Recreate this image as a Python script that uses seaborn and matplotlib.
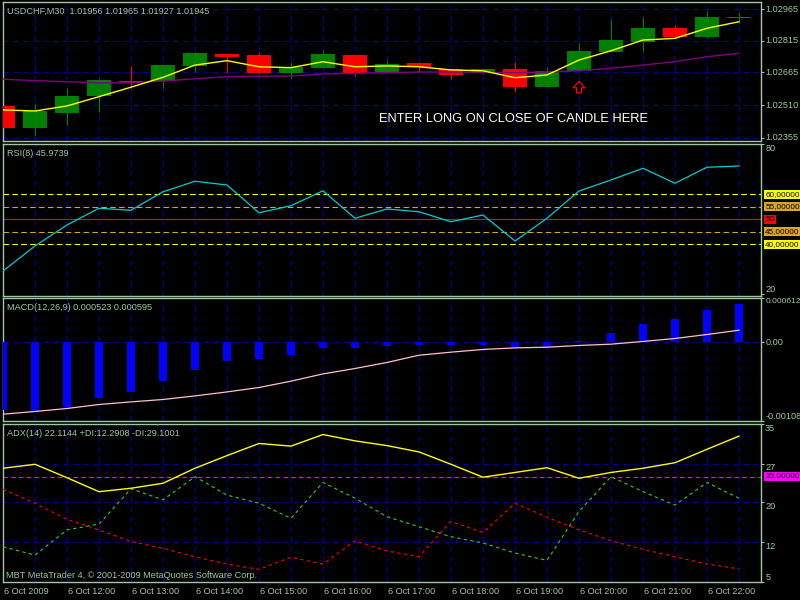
import numpy as np
import matplotlib
matplotlib.use("Agg")
import matplotlib.pyplot as plt
import matplotlib.transforms as mtransforms
import seaborn as sns

# 30 minute candles, 6 Oct 2009 11:00 .. 22:30
bar_idx = np.arange(24)
time_ticks = bar_idx[::2]
time_labels = ["6 Oct 2009", "6 Oct 12:00", "6 Oct 13:00", "6 Oct 14:00", "6 Oct 15:00",
               "6 Oct 16:00", "6 Oct 17:00", "6 Oct 18:00", "6 Oct 19:00", "6 Oct 20:00",
               "6 Oct 21:00", "6 Oct 22:00"]

opens = [1.02506, 1.02403, 1.02474, 1.02555, 1.02626, 1.02624, 1.02697, 1.02753, 1.02748, 1.02661,
         1.02688, 1.02748, 1.02669, 1.02709, 1.02680, 1.02661, 1.02681, 1.02597, 1.02672, 1.02764,
         1.02811, 1.02878, 1.02835, 1.02923]
highs = [1.02548, 1.02515, 1.02593, 1.02632, 1.02696, 1.02703, 1.02764, 1.02755, 1.02764, 1.02716,
         1.02772, 1.02750, 1.02724, 1.02716, 1.02683, 1.02683, 1.02716, 1.02692, 1.02804, 1.02919,
         1.02927, 1.02890, 1.02958, 1.02954]
lows = [1.02360, 1.02368, 1.02415, 1.02479, 1.02591, 1.02591, 1.02669, 1.02664, 1.02658, 1.02640,
        1.02685, 1.02648, 1.02666, 1.02669, 1.02634, 1.02658, 1.02574, 1.02594, 1.02668, 1.02760,
        1.02764, 1.02830, 1.02830, 1.02901]
closes = [1.02403, 1.02482, 1.02553, 1.02629, 1.02621, 1.02700, 1.02756, 1.02740, 1.02661, 1.02692,
          1.02753, 1.02664, 1.02704, 1.02690, 1.02653, 1.02680, 1.02597, 1.02672, 1.02767, 1.02819,
          1.02878, 1.02835, 1.02930, 1.02927]
ma_fast = [1.02487, 1.02482, 1.02506, 1.02550, 1.02595, 1.02642, 1.02700, 1.02721, 1.02692, 1.02688,
           1.02716, 1.02692, 1.02696, 1.02692, 1.02677, 1.02673, 1.02640, 1.02653, 1.02724, 1.02768,
           1.02819, 1.02827, 1.02875, 1.02906]
ma_slow = [1.02633, 1.02626, 1.02621, 1.02616, 1.02616, 1.02624, 1.02635, 1.02645, 1.02647, 1.02648,
           1.02658, 1.02661, 1.02664, 1.02667, 1.02667, 1.02666, 1.02664, 1.02667, 1.02673, 1.02685,
           1.02700, 1.02716, 1.02740, 1.02756]
price_ticks = [1.02965, 1.02815, 1.02665, 1.02510, 1.02355]

rsi = [29.3, 39.3, 47.7, 54.4, 53.6, 61.0, 65.2, 63.7, 52.6, 55.4, 61.4, 50.4, 54.1, 53.0, 49.0,
       51.7, 41.3, 50.4, 61.3, 65.7, 70.4, 64.4, 70.8, 71.3]
rsi_levels = [60, 55, 50, 45, 40]
rsi_level_labels = ["60,00000", "55,00000", "50", "45,00000", "40,00000"]
rsi_level_colors = ["#ffff00", "#daa520", "#ff0000", "#daa520", "#ffff00"]

macd_hist = [-0.000931, -0.000955, -0.000886, -0.000762, -0.000680, -0.000528, -0.000381, -0.000253,
             -0.000226, -0.000171, -0.000078, -0.000078, -0.000051, -0.000033, -0.000033, -0.000033,
             -0.000078, -0.000065, 0.000018, 0.000132, 0.000252, 0.000321, 0.000444, 0.000523]
macd_signal = [-0.000986, -0.000949, -0.000908, -0.000853, -0.000817, -0.000784, -0.000735, -0.000680,
               -0.000619, -0.000532, -0.000432, -0.000358, -0.000275, -0.000175, -0.000133, -0.000096,
               -0.000074, -0.000065, -0.000041, -0.000023, 0.000014, 0.000055, 0.000110, 0.000169]

adx = [26.6, 27.35, 24.8, 22.15, 22.8, 23.75, 26.6, 29.0, 31.3, 30.8, 33.0, 31.8, 30.9, 29.7, 27.35,
       24.9, 25.8, 26.7, 24.7, 25.8, 26.6, 27.65, 30.2, 32.7]
plus_di = [11.7, 10.1, 14.9, 16.0, 22.7, 20.6, 25.0, 21.5, 19.95, 17.1, 23.9, 20.9, 17.4, 15.5, 13.6,
           12.4, 10.5, 9.1, 18.4, 25.0, 22.15, 19.6, 23.9, 20.9]
minus_di = [22.6, 19.95, 16.9, 14.9, 12.7, 11.4, 9.8, 8.4, 7.4, 9.7, 8.4, 12.8, 10.9, 9.8, 16.5,
            14.4, 19.95, 17.3, 14.9, 12.85, 11.2, 9.8, 8.4, 7.5]
adx_ticks = [35, 27.5, 20.1, 12.6, 5]
adx_tick_labels = ["35", "27", "20", "12", "5"]

fg = "#a0c8a0"
grid_col = "#0000a0"
fs = 6.6
box_fs = 5.9
plt.rcParams["font.family"] = ["Liberation Sans", "DejaVu Sans"]

fig = plt.figure(figsize=(8, 6), dpi=100, facecolor="black")


def panel(top, bottom):
    return fig.add_axes([3 / 800, 1 - bottom / 600, 758 / 800, (bottom - top) / 600], facecolor="black")


ax_price = panel(2, 141)
ax_rsi = panel(144, 296)
ax_macd = panel(298, 421)
ax_adx = panel(424, 582)

# candles
up = np.array(closes) >= np.array(opens)
candle_cols = np.where(up, "#008000", "#ff0000")
body_low = np.minimum(opens, closes)
body_h = np.maximum(np.abs(np.array(closes) - np.array(opens)), 0.00004)
ax_price.vlines(bar_idx, lows, highs, colors=candle_cols, lw=0.8, zorder=2)
ax_price.bar(bar_idx, body_h, bottom=body_low, width=0.78, color=candle_cols, zorder=3)
sns.lineplot(x=bar_idx, y=ma_slow, ax=ax_price, color="#800080", lw=1.0, zorder=4)
sns.lineplot(x=bar_idx, y=ma_fast, ax=ax_price, color="#ffff00", lw=1.0, zorder=5)
ax_price.annotate("", xy=(18, 1.02622), xytext=(18, 1.02568),
                  arrowprops=dict(arrowstyle="simple,head_length=0.45,head_width=0.85,tail_width=0.35",
                                  fc="black", ec="red", lw=0.9, shrinkA=0, shrinkB=0), zorder=6)

# RSI
for lvl, col in zip(rsi_levels, rsi_level_colors):
    if lvl == 50:
        ax_rsi.axhline(lvl, color=col, lw=0.8, zorder=2)
    else:
        ax_rsi.axhline(lvl, color=col, lw=0.8, linestyle=(0, (5, 3)), zorder=2)
sns.lineplot(x=bar_idx, y=rsi, ax=ax_rsi, color="#00ced1", lw=0.9, zorder=4)

# MACD
sns.barplot(x=bar_idx, y=macd_hist, ax=ax_macd, native_scale=True, width=0.28, color="#0000ff",
            saturation=1, linewidth=0, zorder=3)
sns.lineplot(x=bar_idx, y=macd_signal, ax=ax_macd, color="#ffc0cb", lw=0.9, zorder=4)

# ADX
ax_adx.axhline(25, color="#ff00ff", lw=0.8, linestyle=(0, (4, 3)), zorder=2)
sns.lineplot(x=bar_idx, y=plus_di, ax=ax_adx, color="#32cd32", lw=0.8, linestyle=(0, (3, 3)), zorder=3)
sns.lineplot(x=bar_idx, y=minus_di, ax=ax_adx, color="#ff0000", lw=0.8, linestyle=(0, (3, 3)), zorder=3)
sns.lineplot(x=bar_idx, y=adx, ax=ax_adx, color="#ffff00", lw=1.0, zorder=4)

limits = {
    ax_price: (1.023394, 1.029997),
    ax_rsi: (19.3, 80.1),
    ax_macd: (-0.00108, 0.000612),
    ax_adx: (5, 35),
}
yticks = {
    ax_price: price_ticks,
    ax_rsi: [80, 20],
    ax_macd: [0.000612, 0.0, -0.00108],
    ax_adx: adx_ticks,
}

for ax in [ax_price, ax_rsi, ax_macd, ax_adx]:
    ax.set_xlim(0, 758 / 32)
    ax.set_ylim(*limits[ax])
    ax.set_xlabel("")
    ax.set_ylabel("")
    ax.set_xticks(bar_idx)
    ax.set_yticks(yticks[ax])
    ax.yaxis.tick_right()
    ax.tick_params(axis="x", which="major", length=0, labelbottom=False)
    ax.tick_params(axis="y", length=2.5, width=0.8, color=fg, labelright=False, left=False)
    ax.grid(True, axis="x", which="major", color=grid_col, lw=0.8, linestyle=(0, (5, 4)))
    if ax is not ax_rsi:
        ax.grid(True, axis="y", which="major", color=grid_col, lw=0.8, linestyle=(0, (5, 4)))
    ax.set_axisbelow(True)
    for sp in ax.spines.values():
        sp.set_color(fg)
        sp.set_linewidth(1.0)


def right_label(ax, val, text, va="center", color=fg, size=fs, **kw):
    tr = mtransforms.blended_transform_factory(ax.transAxes, ax.transData)
    ax.text(1.0055, val, text, transform=tr, va=va, ha="left", fontsize=size, color=color,
            clip_on=False, **kw)


for v in price_ticks:
    right_label(ax_price, v, f"{v:.5f}")
right_label(ax_rsi, 80, "80", va="top")
right_label(ax_rsi, 20, "20", va="bottom")
for lvl, lab, col in zip(rsi_levels, rsi_level_labels, rsi_level_colors):
    right_label(ax_rsi, lvl, lab, color="black", size=box_fs, zorder=10,
                bbox=dict(boxstyle="square,pad=0.15", fc=col, ec="none"))
right_label(ax_macd, 0.000612, "0.000612", va="top", size=6.1)
right_label(ax_macd, 0.0, "0.00")
right_label(ax_macd, -0.00108, "-0.00108", va="bottom")
for v, lab in zip(adx_ticks, adx_tick_labels):
    right_label(ax_adx, v, lab, va="bottom" if v == 5 else "top")
right_label(ax_adx, 25, "25.00000", color="black", size=box_fs, zorder=10,
            bbox=dict(boxstyle="square,pad=0.15", fc="#ff00ff", ec="none"))

# time axis
ax_adx.set_xticks(time_ticks, minor=True)
ax_adx.tick_params(axis="x", which="minor", length=4, width=0.8, color=fg, labelbottom=False)
tr_time = mtransforms.blended_transform_factory(ax_adx.transData, ax_adx.transAxes)
for k, lab in zip(time_ticks, time_labels):
    ax_adx.text(k + 0.03, -0.03, lab, transform=tr_time, ha="left", va="top", fontsize=fs,
                color=fg, clip_on=False)


def px(x, y):
    return x / 800, 1 - y / 600


fig.text(*px(7, 11), "USDCHF,M30  1.01956 1.01965 1.01927 1.01945", fontsize=fs, color=fg, va="center")
fig.text(*px(7, 153), "RSI(8) 45.9739", fontsize=fs, color=fg, va="center")
fig.text(*px(7, 308), "MACD(12,26,9) 0.000523 0.000595", fontsize=fs, color=fg, va="center")
fig.text(*px(7, 433), "ADX(14) 22.1144 +DI:12.2908 -DI:29.1001", fontsize=fs, color=fg, va="center")
fig.text(*px(6, 575), "MBT MetaTrader 4, © 2001-2009 MetaQuotes Software Corp.", fontsize=fs,
         color=fg, va="center")
fig.text(*px(379, 119), "ENTER LONG ON CLOSE OF CANDLE HERE", fontsize=9.3, color="white", va="center")

fig.savefig("out.png", dpi=100, facecolor="black")
